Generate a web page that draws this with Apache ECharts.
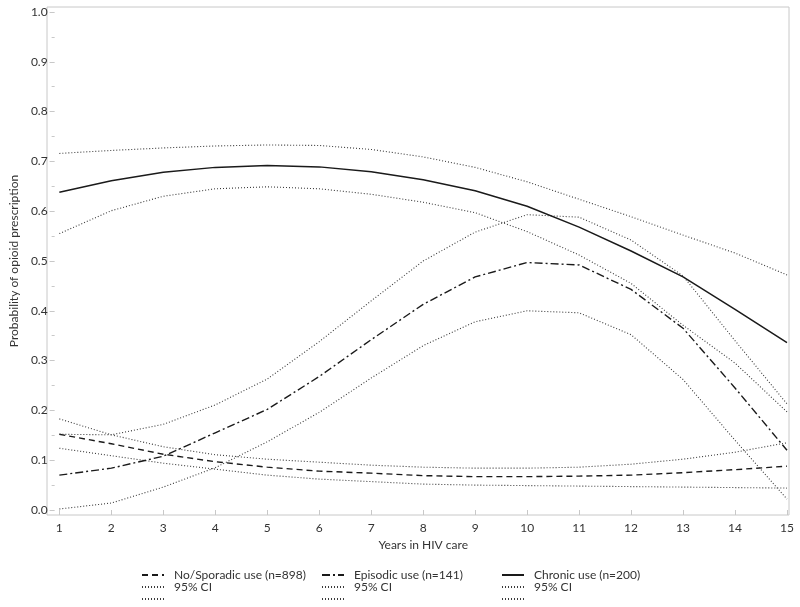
<!DOCTYPE html>
<html>
<head>
<meta charset="utf-8">
<script src="https://cdn.jsdelivr.net/npm/echarts@6/dist/echarts.min.js"></script>
<style>
  html, body { margin: 0; padding: 0; background: #fff; }
  #chart { width: 800px; height: 607px; }
</style>
</head>
<body>
<div id="chart"></div>
<script>
// years in HIV care
const years = [1, 2, 3, 4, 5, 6, 7, 8, 9, 10, 11, 12, 13, 14, 15]

// No/Sporadic use
const noSporadic = [0.152, 0.133, 0.112, 0.097, 0.086, 0.078, 0.074, 0.069, 0.067, 0.067, 0.068, 0.070, 0.075, 0.081, 0.088]
const noSporadicUpper = [0.183, 0.151, 0.127, 0.111, 0.102, 0.096, 0.090, 0.086, 0.084, 0.084, 0.086, 0.092, 0.102, 0.116, 0.135]
const noSporadicLower = [0.124, 0.109, 0.094, 0.082, 0.070, 0.062, 0.057, 0.052, 0.050, 0.049, 0.048, 0.047, 0.046, 0.045, 0.044]

// Episodic use
const episodic = [0.070, 0.084, 0.108, 0.155, 0.202, 0.268, 0.342, 0.413, 0.468, 0.497, 0.492, 0.443, 0.365, 0.245, 0.120]
const episodicUpper = [0.152, 0.151, 0.172, 0.211, 0.263, 0.338, 0.420, 0.500, 0.558, 0.593, 0.588, 0.542, 0.470, 0.340, 0.213]
const episodicLower = [0.002, 0.014, 0.046, 0.085, 0.137, 0.196, 0.265, 0.330, 0.378, 0.400, 0.396, 0.352, 0.262, 0.140, 0.022]

// Chronic use
const chronic = [0.638, 0.661, 0.678, 0.688, 0.692, 0.689, 0.679, 0.663, 0.641, 0.610, 0.568, 0.520, 0.468, 0.403, 0.336]
const chronicUpper = [0.716, 0.722, 0.727, 0.731, 0.733, 0.732, 0.724, 0.709, 0.688, 0.659, 0.624, 0.589, 0.552, 0.516, 0.472]
const chronicLower = [0.555, 0.601, 0.630, 0.645, 0.649, 0.645, 0.634, 0.618, 0.597, 0.559, 0.512, 0.455, 0.371, 0.295, 0.197]

const FONT = 'Lato'
const TEXT = '#333'
const FRAME = '#c8c8c8'

const pairs = arr => years.map((y, i) => [y, arr[i]])

function line (name, data, type, width, color) {
  return {
    name,
    type: 'line',
    data: pairs(data),
    showSymbol: false,
    symbol: 'none',
    silent: true,
    color,
    itemStyle: { color },
    lineStyle: { color, width, type }
  }
}

const dotted = [1, 2]
const ciColor = '#3a3a3a'

const series = [
  line('No/Sporadic use (n=898)', noSporadic, [6, 4], 1.4, '#1a1a1a'),
  line('95% CI', noSporadicUpper, dotted, 1.1, ciColor),
  line(' ', noSporadicLower, dotted, 1.1, ciColor),
  line('Episodic use (n=141)', episodic, [8, 3, 2, 3], 1.4, '#1a1a1a'),
  line('95% CI ', episodicUpper, dotted, 1.1, ciColor),
  line('  ', episodicLower, dotted, 1.1, ciColor),
  line('Chronic use (n=200)', chronic, 'solid', 1.5, '#1a1a1a'),
  line('95% CI  ', chronicUpper, dotted, 1.1, ciColor),
  line('   ', chronicLower, dotted, 1.1, ciColor)
]

function legend (left, names) {
  return {
    orient: 'vertical',
    left,
    top: 569,
    height: 80,
    itemWidth: 22,
    itemHeight: 10,
    itemGap: 0,
    padding: 0,
    selectedMode: false,
    itemStyle: { opacity: 0 },
    textStyle: { fontFamily: FONT, fontSize: 12, color: TEXT, lineHeight: 12, padding: [0, 0, 0, 5] },
    data: names
  }
}

const chart = echarts.init(document.getElementById('chart'), null, { renderer: 'canvas' })

chart.setOption({
  animation: false,
  backgroundColor: '#fff',
  textStyle: { fontFamily: FONT },
  grid: { left: 51.7, right: 13, top: 12, bottom: 97 },
  graphic: [{
    type: 'rect',
    silent: true,
    shape: { x: 47, y: 7, width: 742, height: 508 },
    style: { fill: 'none', stroke: FRAME, lineWidth: 1 },
    z: -1
  }],
  legend: [
    legend(141, ['No/Sporadic use (n=898)', '95% CI', ' ']),
    legend(321, ['Episodic use (n=141)', '95% CI ', '  ']),
    legend(501, ['Chronic use (n=200)', '95% CI  ', '   '])
  ],
  xAxis: {
    type: 'value',
    min: 1,
    max: 15,
    interval: 1,
    offset: 5,
    name: 'Years in HIV care',
    nameLocation: 'middle',
    nameGap: 24,
    nameTextStyle: { fontFamily: FONT, fontSize: 12, color: TEXT },
    axisLine: { show: false },
    axisTick: { show: true, length: 5, lineStyle: { color: FRAME } },
    axisLabel: { fontFamily: FONT, fontSize: 12, color: TEXT, margin: 7 },
    splitLine: { show: false }
  },
  yAxis: {
    type: 'value',
    min: 0,
    max: 1,
    interval: 0.1,
    offset: 4.7,
    name: 'Probability of opioid prescription',
    nameLocation: 'middle',
    nameGap: 30,
    nameTextStyle: { fontFamily: FONT, fontSize: 12, color: TEXT },
    axisLine: { show: false },
    axisTick: { show: true, length: 5, lineStyle: { color: FRAME } },
    minorTick: { show: true, splitNumber: 2, length: 3, lineStyle: { color: FRAME } },
    axisLabel: { fontFamily: FONT, fontSize: 12, color: TEXT, margin: 7, formatter: v => v.toFixed(1) },
    splitLine: { show: false }
  },
  series
})
</script>
</body>
</html>
